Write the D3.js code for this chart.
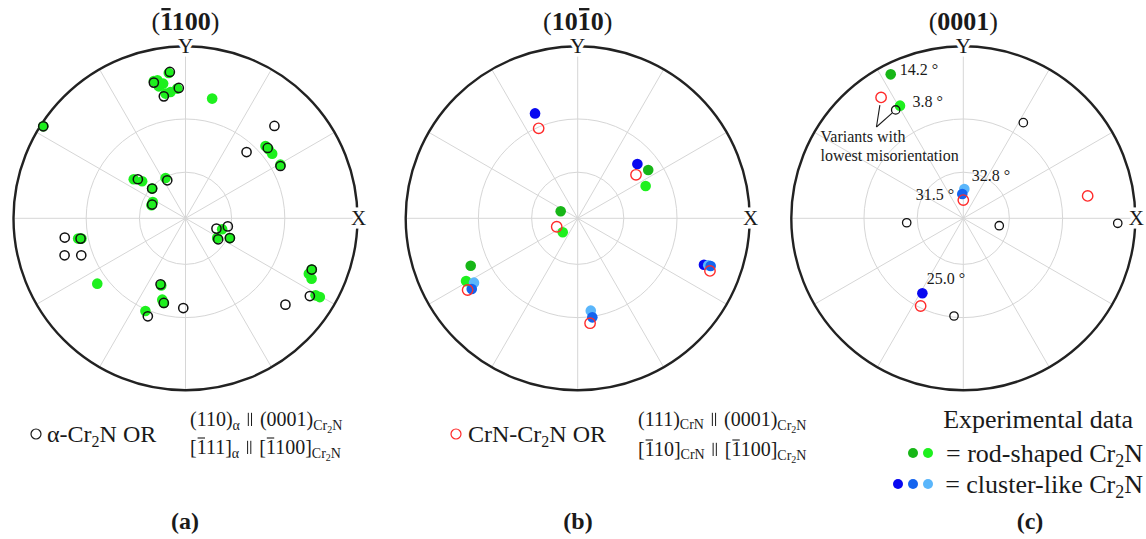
<!DOCTYPE html>
<html><head><meta charset="utf-8">
<script src="https://cdn.jsdelivr.net/npm/d3@7"></script>
<style>body{margin:0;background:#fff}svg{display:block}</style>
</head><body>
<svg id="chart" width="1146" height="539"></svg>
<script>
// ---------------- DATA (projected pole-figure coordinates, unit circle) ----------------
const panelLabels = ["(a)", "(b)", "(c)"];
const gridPolarAngles = [30, 60];           // degrees (stereographic rings)
const gridAzimuths = [0,30,60,90,120,150,180,210,240,270,300,330];

// Panel (a)  (-1100)
const aAlphaOR = [[-0.091,0.851],[-0.184,0.789],[-0.039,0.758],[-0.126,0.709],
  [-0.277,0.227],[-0.194,0.173],[-0.106,0.221],[-0.194,0.080],
  [0.180,-0.060],[0.246,-0.047],[0.190,-0.122],[0.258,-0.115],
  [0.517,0.537],[0.355,0.385],[0.478,0.409],[0.552,0.304],
  [0.734,-0.298],[0.723,-0.452],[0.581,-0.502],
  [-0.827,0.535],[-0.702,-0.112],[-0.610,-0.118],[-0.703,-0.215],[-0.606,-0.215],
  [-0.145,-0.384],[-0.126,-0.492],[-0.219,-0.570],[-0.013,-0.522]];
const aRod = [[-0.097,0.845],[-0.184,0.798],[-0.163,0.802],[-0.130,0.783],[-0.155,0.767],
  [-0.116,0.725],[-0.087,0.734],[-0.048,0.754],[0.155,0.696],
  [-0.301,0.227],[-0.252,0.215],[-0.194,0.173],[-0.116,0.234],[-0.190,0.095],[-0.198,0.076],
  [0.213,-0.064],[0.184,-0.115],[0.258,-0.115],
  [0.465,0.420],[0.483,0.401],[0.504,0.376],[0.552,0.312],
  [0.717,-0.322],[0.733,-0.351],[0.734,-0.298],[0.756,-0.448],[0.781,-0.458],
  [-0.827,0.535],[-0.624,-0.118],[-0.605,-0.118],[-0.513,-0.380],
  [-0.141,-0.390],[-0.135,-0.473],[-0.126,-0.492],[-0.233,-0.539]];

// Panel (b)  (10-10)
const bCrNOR = [[-0.227,0.523],[0.339,0.253],[-0.122,-0.049],[-0.640,-0.417],[0.072,-0.610],[0.769,-0.306]];
const bRodDark = [[-0.099,0.041],[0.410,0.281],[-0.622,-0.276]];
const bRodLight = [[0.395,0.188],[-0.087,-0.081],[-0.649,-0.365]];
const bClusterDark = [[-0.248,0.610],[0.347,0.316],[0.734,-0.270]];
const bClusterLight = [[-0.603,-0.374],[0.076,-0.537],[0.759,-0.273]];
const bClusterMid = [[-0.616,-0.411],[0.085,-0.576],[0.773,-0.277]];

// Panel (c)  (0001)
const cAlphaOR = [[-0.393,0.630],[0.349,0.556],[-0.329,-0.026],[0.209,-0.043],[0.898,-0.029],[-0.054,-0.568]];
const cCrNOR = [[-0.478,0.703],[0.000,0.106],[0.723,0.130],[-0.248,-0.510]];
const cRodDark = [[-0.422,0.837]];
const cRodLight = [[-0.368,0.655]];
const cClusterDark = [[-0.238,-0.436]];
const cClusterLight = [[0.006,0.170]];
const cClusterMid = [[-0.006,0.141]];
const cMisorientations = ["14.2 °", "3.8 °", "32.8 °", "31.5 °", "25.0 °"];

// ---------------- STYLE ----------------
const SERIF = "'Liberation Serif','Times New Roman',Times,serif";
const INK = "#1a1a1a";
const COL = {rodDark:"#17b617", rodLight:"#1ef01e", cluDark:"#0808f0", cluMid:"#1464ef", cluLight:"#5ab6fb", red:"#ff2a2a", black:"#111"};
const R = 172;
const svg = d3.select("#chart");

const layout = [{cx:185.5, cy:218.3}, {cx:577.7, cy:218.3}, {cx:963.3, cy:218.3}];

function rich(g, x, y, segs, base, anchor) {
  const t = g.append("text").attr("x", x).attr("y", y)
    .attr("font-family", SERIF).attr("fill", INK).attr("font-size", base);
  if (anchor) t.attr("text-anchor", anchor);
  let prev = 0, idx = 0; const bars = [], pars = [];
  segs.forEach(s => {
    const off = s.off || 0, size = s.size || base;
    const ts = t.append("tspan").attr("dy", off - prev).attr("font-size", size).text(s.t);
    if (s.bold) ts.attr("font-weight", "bold");
    prev = off;
    if (s.bar) bars.push({idx, size, off, bold: s.bold});
    if (s.par) pars.push({idx, size, off});
    idx += s.t.length;
  });
  const node = t.node();
  bars.forEach(b => {
    const e = node.getExtentOfChar(b.idx);
    const by = y + b.off - 0.8 * b.size;
    g.append("line").attr("x1", e.x + e.width * 0.1).attr("x2", e.x + e.width * 0.9)
      .attr("y1", by).attr("y2", by).attr("stroke", INK)
      .attr("stroke-width", b.bold ? b.size * 0.09 : b.size * 0.055);
  });
  // parallel sign drawn as two thin strokes inside a placeholder space
  pars.forEach(p => {
    const e = node.getExtentOfChar(p.idx);
    const mid = e.x + e.width / 2, y0 = y + p.off - 0.66 * p.size, y1 = y + p.off + 0.0;
    [-1.6, 1.6].forEach(o => g.append("line").attr("x1", mid + o).attr("x2", mid + o)
      .attr("y1", y0).attr("y2", y1).attr("stroke", INK).attr("stroke-width", 1));
  });
  return t;
}

function panel(i, titleSegs, layers) {
  const {cx, cy} = layout[i];
  const g = svg.append("g");
  const x = d3.scaleLinear().domain([-1, 1]).range([cx - R, cx + R]);
  const y = d3.scaleLinear().domain([-1, 1]).range([cy + R, cy - R]);
  const rs = d3.scaleLinear().domain([0, 1]).range([0, R]);

  g.selectAll("circle.ring").data(gridPolarAngles).join("circle")
    .attr("cx", x(0)).attr("cy", y(0)).attr("r", d => rs(Math.tan(d * Math.PI / 360)))
    .attr("fill", "none").attr("stroke", "#d6d6d6").attr("stroke-width", 1);
  g.selectAll("line.spoke").data(gridAzimuths).join("line")
    .attr("x1", x(0)).attr("y1", y(0))
    .attr("x2", d => x(Math.cos(d * Math.PI / 180))).attr("y2", d => y(Math.sin(d * Math.PI / 180)))
    .attr("stroke", "#d6d6d6").attr("stroke-width", 1);
  g.append("circle").attr("cx", x(0)).attr("cy", y(0)).attr("r", rs(1))
    .attr("fill", "none").attr("stroke", "#222").attr("stroke-width", 2.4);

  // axis labels with white halo (gap in the rim)
  g.append("text").attr("x", x(0)).attr("y", y(1) + 7).attr("text-anchor", "middle")
    .attr("font-family", SERIF).attr("font-size", 21).attr("fill", INK)
    .attr("stroke", "#fff").attr("stroke-width", 7).attr("paint-order", "stroke").text("Y");
  g.append("text").attr("x", x(1) + 1).attr("y", y(0) + 7).attr("text-anchor", "middle")
    .attr("font-family", SERIF).attr("font-size", 21).attr("fill", INK)
    .attr("stroke", "#fff").attr("stroke-width", 7).attr("paint-order", "stroke").text("X");

  // title
  rich(g, cx, 30, titleSegs, 26, "middle");

  layers.forEach(L => {
    const sel = g.append("g").selectAll("circle").data(L.data).join("circle")
      .attr("cx", d => x(d[0])).attr("cy", d => y(d[1])).attr("r", L.r);
    if (L.open) sel.attr("fill", "none").attr("stroke", L.color).attr("stroke-width", L.sw || 1.5);
    else sel.attr("fill", L.color);
  });
  return {g, x, y};
}

const openBlack = d => ({data: d, open: true, color: COL.black, r: 4.6, sw: 1.5});
const openRed = d => ({data: d, open: true, color: COL.red, r: 5.2, sw: 1.4});
const dot = (d, c) => ({data: d, color: c, r: 5.3});

panel(0, [{t:"("},{t:"1",bold:true,bar:true},{t:"100",bold:true},{t:")"}],
  [dot(aRod, COL.rodLight), openBlack(aAlphaOR)]);
panel(1, [{t:"("},{t:"10",bold:true},{t:"1",bold:true,bar:true},{t:"0",bold:true},{t:")"}],
  [dot(bRodDark, COL.rodDark), dot(bRodLight, COL.rodLight), dot(bClusterDark, COL.cluDark),
   dot(bClusterLight, COL.cluLight), dot(bClusterMid, COL.cluMid), openRed(bCrNOR)]);
const pc = panel(2, [{t:"("},{t:"0001",bold:true},{t:")"}],
  [dot(cRodDark, COL.rodDark), dot(cRodLight, COL.rodLight), dot(cClusterDark, COL.cluDark),
   dot(cClusterLight, COL.cluLight), dot(cClusterMid, COL.cluMid), openRed(cCrNOR),
   {data: cAlphaOR, open: true, color: COL.black, r: 4.2, sw: 1.3}]);

// annotations in (c), attached to their points
const ann = [
  {p: cRodDark[0], t: cMisorientations[0], dx: 9, dy: 1, a: "start"},
  {p: cRodLight[0], t: cMisorientations[1], dx: 12.5, dy: 1.5, a: "start"},
  {p: cClusterLight[0], t: cMisorientations[2], dx: 7.5, dy: -8, a: "start"},
  {p: cClusterMid[0], t: cMisorientations[3], dx: -8, dy: 6, a: "end"},
  {p: cClusterDark[0], t: cMisorientations[4], dx: 4.5, dy: -9.5, a: "start"}
];
ann.forEach(A => {
  pc.g.append("text").attr("x", pc.x(A.p[0]) + A.dx).attr("y", pc.y(A.p[1]) + A.dy)
    .attr("text-anchor", A.a).attr("font-family", SERIF).attr("font-size", 16).attr("fill", INK).text(A.t);
});
{
  const vx = pc.x(-0.505), vy = pc.y(0.531);
  [[cCrNOR[0], 7.8], [cAlphaOR[0], 4.5]].forEach(([p, gap]) => {
    const px = pc.x(p[0]), py = pc.y(p[1]);
    const dx = px - vx, dy = py - vy, L = Math.hypot(dx, dy);
    pc.g.append("line").attr("x1", vx).attr("y1", vy)
      .attr("x2", vx + dx * (L - gap) / L).attr("y2", vy + dy * (L - gap) / L)
      .attr("stroke", INK).attr("stroke-width", 1.1);
  });
  pc.g.append("text").attr("x", 820.5).attr("y", 142).attr("font-family", SERIF).attr("font-size", 16).attr("fill", INK).text("Variants with");
  pc.g.append("text").attr("x", 820.5).attr("y", 161).attr("font-family", SERIF).attr("font-size", 16).attr("fill", INK).text("lowest misorientation");
}

// ---------------- LEGENDS ----------------
const lg = svg.append("g");
const sub = 14, sub2 = 10;
const par = [{t:" ",off:0},{t:"\u2002",par:true,size:20},{t:" ("}];
const parB = [{t:" ",off:0},{t:"\u2002",par:true,size:20},{t:" ["}];
const cr2nSub = [{t:"Cr",size:sub,off:4},{t:"2",size:sub2,off:7},{t:"N",size:sub,off:4}];
// (a)
lg.append("circle").attr("cx", 36).attr("cy", 434).attr("r", 5).attr("fill", "none").attr("stroke", INK).attr("stroke-width", 1.2);
rich(lg, 47, 442, [{t:"α-Cr"},{t:"2",size:16,off:5},{t:"N OR",off:0}], 24);
rich(lg, 190, 426, [{t:"(110)"},{t:"α",size:sub,off:4}].concat(par,[{t:"0001)"}],cr2nSub), 20);
rich(lg, 190, 454, [{t:"["},{t:"1",bar:true},{t:"11]"},{t:"α",size:sub,off:4}].concat(parB,[{t:"1",bar:true},{t:"100]"}],cr2nSub), 20);
// (b)
lg.append("circle").attr("cx", 456).attr("cy", 434).attr("r", 5).attr("fill", "none").attr("stroke", COL.red).attr("stroke-width", 1.2);
rich(lg, 468, 442, [{t:"CrN-Cr"},{t:"2",size:16,off:5},{t:"N OR",off:0}], 24);
rich(lg, 638, 426, [{t:"(111)"},{t:"CrN",size:sub,off:3}].concat(par,[{t:"0001)"}],cr2nSub), 20);
rich(lg, 638, 456, [{t:"["},{t:"1",bar:true},{t:"10]"},{t:"CrN",size:sub,off:3}].concat(parB,[{t:"1",bar:true},{t:"100]"}],cr2nSub), 20);
// (c)
rich(lg, 1133, 428, [{t:"Experimental data"}], 26, "end");
rich(lg, 1143, 462, [{t:"= rod-shaped Cr"},{t:"2",size:18,off:5},{t:"N",off:0}], 26, "end");
rich(lg, 1143, 493, [{t:"= cluster-like Cr"},{t:"2",size:18,off:5},{t:"N",off:0}], 26, "end");
lg.selectAll("circle.rod").data([COL.rodDark, COL.rodLight]).join("circle")
  .attr("cx", (d, i) => 913 + i * 15).attr("cy", 453).attr("r", 5).attr("fill", d => d);
lg.selectAll("circle.clu").data([COL.cluDark, COL.cluMid, COL.cluLight]).join("circle")
  .attr("cx", (d, i) => 898 + i * 15).attr("cy", 484).attr("r", 5).attr("fill", d => d);

// panel letters
[185, 578, 1030].forEach((px, i) => {
  lg.append("text").attr("x", px).attr("y", 529).attr("text-anchor", "middle")
    .attr("font-family", SERIF).attr("font-size", 24).attr("font-weight", "bold").attr("fill", INK).text(panelLabels[i]);
});
</script>
</body></html>
